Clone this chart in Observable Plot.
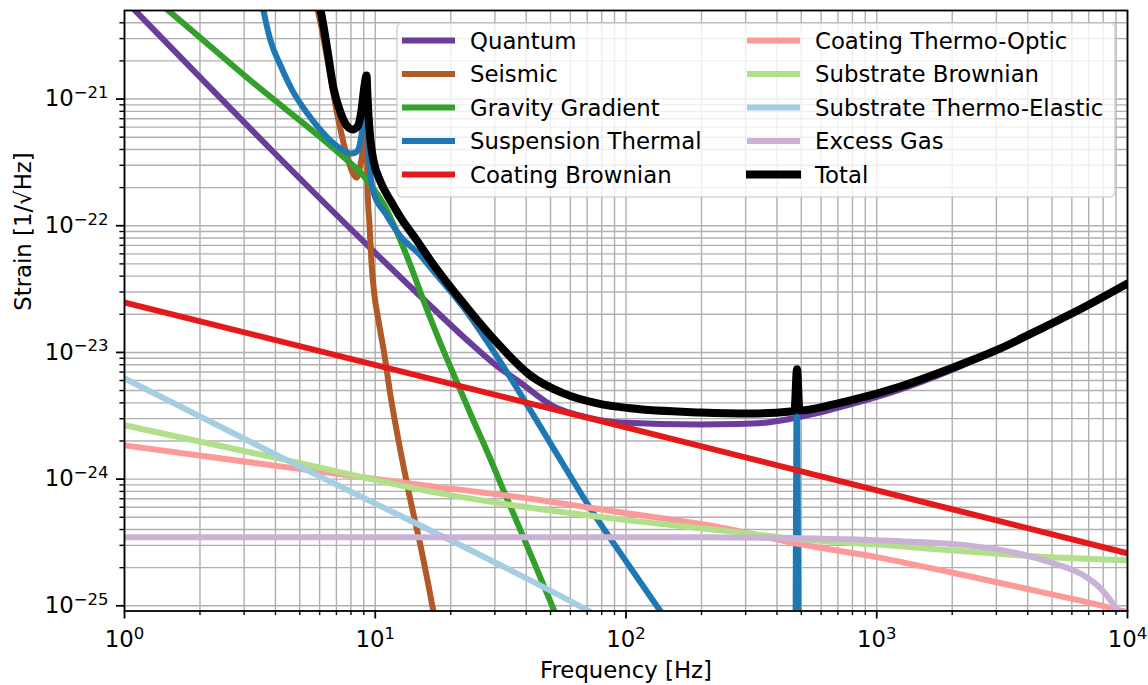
<!DOCTYPE html>
<html>
<head>
<meta charset="utf-8">
<script src="https://cdn.jsdelivr.net/npm/d3@7"></script>
<script src="https://cdn.jsdelivr.net/npm/@observablehq/plot@0.6"></script>
<style>
  html, body { margin: 0; padding: 0; background: #fff; }
  #chart { position: absolute; left: 0; top: 0; }
</style>
</head>
<body>
<div id="chart"></div>
<script>
// ---- Data: [frequency Hz, strain 1/sqrt(Hz)] ----
const seriesNames = ["Quantum", "Seismic", "Gravity Gradient", "Suspension Thermal", "Coating Brownian",
  "Coating Thermo-Optic", "Substrate Brownian", "Substrate Thermo-Elastic", "Excess Gas", "Total"];
const seriesColors = ["#6a3d9a", "#b15928", "#33a02c", "#1f78b4", "#e31a1c",
  "#fb9a99", "#b2df8a", "#a6cee3", "#cab2d6", "#000000"];

const quantum = [[1, 6.1e-21], [14.74, 2.92e-23], [24.0, 1.18e-23], [30.7, 7.75e-24], [36.9, 6.01e-24],
  [51.4, 3.75e-24], [70.2, 3.07e-24], [95.1, 2.80e-24], [198, 2.70e-24], [280, 2.72e-24], [367, 2.80e-24],
  [483, 3.07e-24], [786, 3.89e-24], [1243, 5.11e-24], [1969, 7.21e-24], [4220, 1.44e-23], [10000, 3.44e-23]];

const seismic = [[5.7, 6.2e-21], [5.9, 4.99e-21], [6.45, 2.01e-21], [7.01, 8.11e-22], [7.61, 3.92e-22],
  [8.12, 2.63e-22], [8.42, 2.40e-22], [8.66, 2.83e-22], [8.90, 3.92e-22], [9.06, 1.28e-21], [9.15, 1.53e-21],
  [9.23, 6.77e-22], [9.31, 2.08e-22], [9.49, 1.005e-22], [9.66, 5.13e-23], [9.93, 2.82e-23], [10.30, 1.79e-23],
  [10.89, 9.47e-24], [11.50, 4.58e-24], [12.38, 2.02e-24], [13.82, 6.80e-25], [15.29, 2.74e-25],
  [17.08, 8.89e-26], [17.87, 5.35e-26]];

const gravityGradient = [[1, 9.7e-21], [1.497, 4.99e-21], [3.18, 1.40e-21], [7.75, 3.27e-22], [8.73, 2.63e-22],
  [9.75, 2.00e-22], [10.99, 1.393e-22], [12.27, 8.69e-23], [13.82, 4.86e-23], [15.57, 2.57e-23], [18.2, 1.18e-23],
  [21.28, 5.69e-24], [24.43, 3.01e-24], [28.04, 1.63e-24], [32.47, 8.15e-25], [39.02, 3.47e-25],
  [51.87, 9.05e-26], [57.4, 5.64e-26]];

const suspensionThermal = [[3.52, 6.0e-21], [3.584, 4.99e-21], [3.823, 2.89e-21], [4.19, 1.84e-21],
  [4.677, 1.167e-21], [5.368, 7.68e-22], [6.45, 4.97e-22], [7.269, 4.07e-22], [7.968, 3.72e-22],
  [8.342, 3.78e-22], [8.655, 4.30e-22], [8.897, 5.85e-22], [9.06, 7.41e-22], [9.15, 1.40e-21], [9.31, 5.64e-22],
  [9.49, 2.99e-22], [9.84, 1.83e-22], [10.99, 1.249e-22], [12.61, 8.23e-23], [15.15, 5.83e-23], [16.61, 4.68e-23],
  [22.49, 2.26e-23], [30.73, 9.13e-24], [41.6, 3.49e-24], [51.38, 1.75e-24], [74.2, 5.37e-25], [101.4, 2.16e-25],
  [137.3, 9.05e-26], [165, 5.35e-26], [NaN, NaN],
  [474.3, 5e-26], [480.8, 7.35e-24], [487.5, 5e-26]];

const coatingBrownian = [[1, 2.48e-23], [100, 2.56e-24], [10000, 2.6e-25]];

const coatingThermoOptic = [[1, 1.846e-24], [4.467, 1.238e-24], [18.2, 8.61e-25], [37.96, 7.18e-25],
  [95.1, 5.47e-25], [238.2, 4.16e-25], [496.5, 3.06e-25], [1007, 2.41e-25], [1969, 1.84e-25],
  [4219, 1.325e-25], [7805, 1.009e-25], [10000, 8.89e-26]];

const substrateBrownian = [[1, 2.66e-24], [4.467, 1.406e-24], [18.2, 7.72e-25], [37.96, 6.10e-25],
  [95.1, 4.81e-25], [238.2, 3.94e-25], [496.5, 3.35e-25], [1243, 2.95e-25], [1969, 2.74e-25],
  [4219, 2.46e-25], [10000, 2.29e-25]];

const substrateThermoElastic = [[1, 6.23e-24], [4.467, 1.406e-24], [70.2, 9.22e-26], [79.1, 8.11e-26]];

const excessGas = [[1, 3.47e-25], [198.2, 3.47e-25], [496.5, 3.41e-25], [1243, 3.23e-25], [2301, 3.00e-25],
  [3641, 2.60e-25], [4931, 2.20e-25], [6675, 1.74e-25], [7805, 1.374e-25], [8554, 1.105e-25],
  [9123, 8.89e-26], [9378, 6.41e-26]];

const total = [[5.89, 6.0e-21], [6.05, 4.99e-21], [6.45, 2.41e-21], [6.82, 1.21e-21], [7.27, 7.83e-22],
  [7.75, 6.07e-22], [8.12, 5.75e-22], [8.50, 6.07e-22], [8.81, 8.11e-22], [9.06, 1.278e-21], [9.23, 1.532e-21],
  [9.31, 1.066e-21], [9.40, 7.41e-22], [9.57, 4.71e-22], [9.84, 3.27e-22], [10.49, 2.23e-22], [11.50, 1.58e-22],
  [12.61, 1.162e-22], [14.47, 7.93e-23], [16.61, 5.32e-23], [22.49, 2.44e-23], [30.73, 1.18e-23],
  [41.6, 6.58e-24], [56.33, 4.75e-24], [76.97, 3.96e-24], [104.2, 3.62e-24], [198.2, 3.36e-24],
  [313.7, 3.30e-24], [452.9, 3.42e-24], [469.9, 3.49e-24], [480.8, 7.35e-24], [491.9, 3.49e-24],
  [672.1, 3.89e-24], [785.8, 4.18e-24], [1243, 5.39e-24], [1969, 7.48e-24], [3115, 1.076e-23],
  [4219, 1.438e-23], [6675, 2.26e-23], [10000, 3.50e-23]];

const seriesData = [quantum, seismic, gravityGradient, suspensionThermal, coatingBrownian,
  coatingThermoOptic, substrateBrownian, substrateThermoElastic, excessGas, total];

// Tick values
const xMajor = [1, 10, 100, 1000, 10000];
const yMajor = [1e-25, 1e-24, 1e-23, 1e-22, 1e-21];
const yDomain = [9.1e-26, 5e-21];

const xMinor = [];
for (let k = 0; k <= 3; k++) for (let m = 2; m <= 9; m++) xMinor.push(m * Math.pow(10, k));
const yMinor = [];
for (let k = -26; k <= -21; k++) for (let m = 2; m <= 9; m++) {
  const v = m * Math.pow(10, k);
  if (v > yDomain[0] && v < yDomain[1] * 0.999) yMinor.push(v);
}

const fmt = d => "10^" + Math.round(Math.log10(d));
const FS = 22.8;
const gridStyle = {stroke: "#b0b0b0", strokeOpacity: 1, strokeWidth: 1.4};

const lineMarks = seriesData.map((arr, i) =>
  Plot.line(arr.map(p => ({f: p[0], h: p[1]})), {
    x: "f", y: "h",
    stroke: seriesColors[i],
    strokeWidth: i === 9 ? 8 : 6,
    curve: "monotone-x",
    clip: true
  })
);

const svg = Plot.plot({
  width: 1148,
  height: 685,
  marginLeft: 124,
  marginRight: 21,
  marginTop: 10,
  marginBottom: 74.5,
  style: {fontFamily: "'DejaVu Sans', sans-serif", fontSize: FS + "px", background: "white", color: "black", overflow: "visible"},
  x: {type: "log", domain: [1, 1e4]},
  y: {type: "log", domain: yDomain},
  marks: [
    Plot.gridX(xMinor.concat(xMajor), gridStyle),
    Plot.gridY(yMinor.concat(yMajor), gridStyle),
    ...lineMarks,
    Plot.frame({stroke: "black", strokeWidth: 1.8}),
    Plot.axisX(xMinor, {tickSize: 4.6, strokeWidth: 1.4, tickFormat: () => "", label: null}),
    Plot.axisX(xMajor, {tickSize: 8, tickPadding: 12, strokeWidth: 1.8, tickFormat: fmt, label: null, fontSize: FS}),
    Plot.axisY(yMinor, {tickSize: 4.6, strokeWidth: 1.4, tickFormat: () => "", label: null}),
    Plot.axisY(yMajor, {tickSize: 8, tickPadding: 8, strokeWidth: 1.8, tickFormat: fmt, label: null, fontSize: FS}),
    Plot.text(["Frequency [Hz]"], {text: d => d, frameAnchor: "bottom", dy: 67, fontSize: FS}),
    Plot.text(["Strain [1/\u221AHz]"], {text: d => d, frameAnchor: "left", dx: -101, rotate: -90, fontSize: FS})
  ]
});

// Superscript exponents on the tick labels (10^k)
const NS = "http://www.w3.org/2000/svg";
svg.querySelectorAll('g[aria-label="x-axis tick label"] text, g[aria-label="y-axis tick label"] text').forEach(t => {
  const m = /^10\^(-?\d+)$/.exec(t.textContent.trim());
  if (!m) return;
  t.textContent = "";
  const a = document.createElementNS(NS, "tspan");
  a.textContent = "10";
  t.appendChild(a);
  const b = document.createElementNS(NS, "tspan");
  b.setAttribute("dy", "-8.5");
  b.setAttribute("font-size", "16.5");
  b.textContent = m[1].replace("-", "\u2212");
  t.appendChild(b);
});

// Legend inside the plot (two columns)
const lg = d3.select(svg).append("g")
  .attr("font-family", "'DejaVu Sans', sans-serif")
  .attr("font-size", FS)
  .attr("text-anchor", "start");
lg.append("rect")
  .attr("x", 397).attr("y", 23).attr("width", 718).attr("height", 174).attr("rx", 5)
  .attr("fill", "white").attr("fill-opacity", 0.8)
  .attr("stroke", "#cccccc").attr("stroke-opacity", 0.8).attr("stroke-width", 1.6);
seriesNames.forEach((name, i) => {
  const col = Math.floor(i / 5), row = i % 5;
  const x0 = col ? 750 : 405, tx = col ? 815 : 470, y = 40.5 + row * 33.5;
  lg.append("line")
    .attr("x1", x0).attr("x2", x0 + 47).attr("y1", y).attr("y2", y)
    .attr("stroke", seriesColors[i]).attr("stroke-width", i === 9 ? 8 : 6)
    .attr("stroke-linecap", "square");
  lg.append("text").attr("x", tx).attr("y", y + 8.3).attr("fill", "black")
    .attr("text-anchor", "start").text(name);
});

document.getElementById("chart").appendChild(svg);
</script>
</body>
</html>
